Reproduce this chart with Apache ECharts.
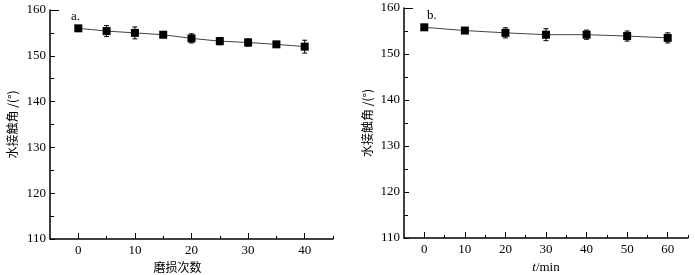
<!DOCTYPE html>
<html>
<head>
<meta charset="utf-8">
<script src="https://cdn.jsdelivr.net/npm/echarts@6/dist/echarts.min.js"></script>
<style>
  html, body { margin: 0; padding: 0; background: #fff; }
  #main { width: 695px; height: 275px; }
</style>
</head>
<body>
<div id="main"></div>
<script>
// 数据：左图（磨损次数）
var wearCounts = [0, 5, 10, 15, 20, 25, 30, 35, 40];
var wearAngles = [156.0, 155.4, 155.0, 154.6, 153.8, 153.2, 152.9, 152.5, 152.0];
var wearErrors = [0.3, 1.2, 1.3, 0.3, 1.0, 0.8, 0.8, 0.6, 1.4];

// 右图（时间 t/min）
var timeMinutes = [0, 10, 20, 30, 40, 50, 60];
var timeAngles = [155.8, 155.1, 154.6, 154.2, 154.2, 153.9, 153.5];
var timeErrors = [0.4, 0.3, 1.1, 1.3, 1.0, 1.1, 1.1];

// 刻度
var wearMajorTicks = [0, 10, 20, 30, 40];
var wearMinorTicks = [5, 15, 25, 35, 45];
var timeMajorTicks = [0, 10, 20, 30, 40, 50, 60];
var timeMinorTicks = [5, 15, 25, 35, 45, 55, 65];
var yTopTick = [160];

var serif = 'Liberation Serif';
var cjk = 'Noto Sans CJK SC';

function pairs(xs, ys) {
    return xs.map(function (x, i) { return [x, ys[i]]; });
}
function errRows(xs, ys, es) {
    return xs.map(function (x, i) { return [x, ys[i] - es[i], ys[i] + es[i]]; });
}

// 误差棒
function renderErr(params, api) {
    var x = api.value(0);
    var top = api.coord([x, api.value(2)]);
    var bot = api.coord([x, api.value(1)]);
    var w = 2.5;
    var st = { stroke: '#000', lineWidth: 1 };
    return {
        type: 'group',
        children: [
            { type: 'line', shape: { x1: top[0], y1: top[1], x2: bot[0], y2: bot[1] }, style: st },
            { type: 'line', shape: { x1: top[0] - w, y1: top[1], x2: top[0] + w, y2: top[1] }, style: st },
            { type: 'line', shape: { x1: bot[0] - w, y1: bot[1], x2: bot[0] + w, y2: bot[1] }, style: st }
        ]
    };
}

function majorX(grid, max, ticks, name, namePad) {
    return {
        type: 'value', gridIndex: grid, min: -5, max: max, position: 'bottom',
        axisLine: { show: true, onZero: false, lineStyle: { color: '#000', width: 1.5 } },
        axisTick: { show: true, inside: true, length: 6, customValues: ticks, lineStyle: { color: '#000', width: 1 } },
        axisLabel: { show: true, customValues: ticks, margin: 5, color: '#000', fontFamily: serif, fontSize: 13 },
        splitLine: { show: false },
        name: name, nameLocation: 'middle', nameGap: 21,
        nameTextStyle: { color: '#000', fontFamily: cjk, fontSize: 12, padding: namePad, rich: {
            it: { fontFamily: serif, fontStyle: 'italic', fontSize: 13, color: '#000' },
            rm: { fontFamily: serif, fontSize: 13, color: '#000' }
        } }
    };
}
function minorX(grid, max, ticks) {
    return {
        type: 'value', gridIndex: grid, min: -5, max: max, position: 'bottom',
        axisLine: { show: false, onZero: false },
        axisTick: { show: true, inside: true, length: 3, customValues: ticks, lineStyle: { color: '#000', width: 1 } },
        axisLabel: { show: false },
        splitLine: { show: false }
    };
}
function mainY(grid, gap) {
    return {
        type: 'value', gridIndex: grid, min: 110, max: 160, interval: 10, position: 'left',
        axisLine: { show: true, onZero: false, lineStyle: { color: '#000', width: 1.5 } },
        axisTick: { show: true, inside: true, length: 5, lineStyle: { color: '#000', width: 1 } },
        minorTick: { show: true, splitNumber: 2, length: 4, lineStyle: { color: '#000', width: 1 } },
        axisLabel: { margin: 4, color: '#000', fontFamily: serif, fontSize: 13 },
        splitLine: { show: false },
        name: '水接触角 /(°)', nameLocation: 'middle', nameGap: gap, nameRotate: 90,
        nameTextStyle: { color: '#000', fontFamily: cjk, fontSize: 12 }
    };
}
function topY(grid) {
    return {
        type: 'value', gridIndex: grid, min: 110, max: 160, position: 'left',
        axisLine: { show: false, onZero: false },
        axisTick: { show: true, inside: true, length: 9, customValues: yTopTick, lineStyle: { color: '#000', width: 1 } },
        axisLabel: { show: false },
        splitLine: { show: false }
    };
}

var myChart = echarts.init(document.getElementById('main'));

var option = {
    animation: false,
    backgroundColor: '#fff',
    title: [
        { text: 'a.', left: 66, top: 5, textStyle: { fontFamily: serif, fontSize: 13, fontWeight: 'normal', color: '#000' } },
        { text: 'b.', left: 422, top: 4, textStyle: { fontFamily: serif, fontSize: 13, fontWeight: 'normal', color: '#000' } }
    ],
    grid: [
        { left: 50, top: 10, width: 283, height: 229, outerBoundsMode: 'none' },
        { left: 404, top: 8, width: 284, height: 230, outerBoundsMode: 'none' }
    ],
    xAxis: [
        majorX(0, 45, wearMajorTicks, '磨损次数', [0, 28, 0, 0]),
        minorX(0, 45, wearMinorTicks),
        majorX(1, 65, timeMajorTicks, '{it|t}{rm|/min}', 0),
        minorX(1, 65, timeMinorTicks)
    ],
    yAxis: [
        mainY(0, 32),
        mainY(1, 31),
        topY(0),
        topY(1)
    ],
    series: [
        {
            type: 'custom', xAxisIndex: 0, yAxisIndex: 0, z: 2,
            renderItem: renderErr,
            data: errRows(wearCounts, wearAngles, wearErrors)
        },
        {
            type: 'line', xAxisIndex: 0, yAxisIndex: 0, z: 3,
            symbol: 'rect', symbolSize: 8,
            itemStyle: { color: '#000' },
            lineStyle: { color: '#444', width: 1 },
            data: pairs(wearCounts, wearAngles)
        },
        {
            type: 'custom', xAxisIndex: 2, yAxisIndex: 1, z: 2,
            renderItem: renderErr,
            data: errRows(timeMinutes, timeAngles, timeErrors)
        },
        {
            type: 'line', xAxisIndex: 2, yAxisIndex: 1, z: 3,
            symbol: 'rect', symbolSize: 8,
            itemStyle: { color: '#000' },
            lineStyle: { color: '#444', width: 1 },
            data: pairs(timeMinutes, timeAngles)
        }
    ]
};

myChart.setOption(option);
</script>
</body>
</html>
